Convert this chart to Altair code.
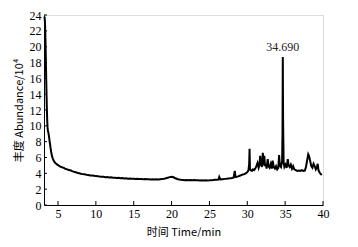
import altair as alt
import pandas as pd

time_min = [3.22, 3.27, 3.32, 3.37, 3.42, 3.47, 3.52, 3.57, 3.62, 3.67, 3.72, 3.77, 3.82, 3.87, 3.93, 4.0, 4.1, 4.2, 4.3, 4.4, 4.5, 4.6, 4.7, 4.8, 4.9,
            5.0, 5.15, 5.3, 5.45, 5.6, 5.75, 5.9, 6.05, 6.2, 6.35, 6.5, 6.65, 6.8, 6.95, 7.1, 7.25, 7.4, 7.55, 7.7, 7.85, 8.0,
            8.25, 8.5, 8.75, 9.0, 9.25, 9.5, 9.75, 10.0, 10.25, 10.5, 10.75, 11.0, 11.25, 11.5, 11.75, 12.0, 12.25, 12.5, 12.75, 13.0,
            13.25, 13.5, 13.75, 14.0, 14.25, 14.5, 14.75, 15.0, 15.25, 15.5, 15.75, 16.0, 16.25, 16.5, 16.75, 17.0, 17.25, 17.5, 17.75,
            18.0, 18.25, 18.5, 18.75, 19.0, 19.25, 19.5, 19.75, 20.0, 20.25, 20.5, 20.75, 21.0, 21.25, 21.5, 21.75, 22.0, 22.25, 22.5,
            22.75, 23.0, 23.25, 23.5, 23.75, 24.0, 24.25, 24.5, 24.75, 25.0, 25.25, 25.5, 25.75, 26.0, 26.2, 26.3, 26.45, 26.75, 27.0,
            27.25, 27.5, 27.75, 28.0, 28.2, 28.35, 28.45, 28.6, 28.8, 29.0, 29.2, 29.4, 29.6, 29.8, 30.0, 30.15, 30.25, 30.3, 30.35,
            30.45, 30.6, 30.75, 30.9, 31.05, 31.2, 31.35, 31.5, 31.6, 31.7, 31.8, 31.95, 32.05, 32.15, 32.25, 32.35, 32.45, 32.55,
            32.7, 32.8, 32.95, 33.1, 33.25, 33.35, 33.5, 33.65, 33.8, 33.95, 34.1, 34.2, 34.3, 34.45, 34.6, 34.65, 34.69, 34.73,
            34.8, 34.9, 35.05, 35.2, 35.35, 35.45, 35.6, 35.75, 35.9, 36.05, 36.2, 36.4, 36.6, 36.8, 37.0, 37.2, 37.4, 37.6, 37.75,
            37.9, 38.05, 38.15, 38.3, 38.45, 38.6, 38.75, 38.9, 39.05, 39.2, 39.3, 39.4, 39.55, 39.7, 39.85]

abundance = [23.8, 23.2, 21.8, 19.6, 17.0, 14.6, 12.4, 10.8, 9.8, 9.3, 9.2, 8.9, 8.6, 8.2, 7.8, 7.3, 6.7, 6.2, 5.9, 5.65, 5.5, 5.35, 5.25, 5.2, 5.1,
             5.05, 4.95, 4.85, 4.8, 4.72, 4.7, 4.6, 4.55, 4.5, 4.45, 4.4, 4.38, 4.3, 4.25, 4.2, 4.18, 4.1, 4.08, 4.02, 4.0, 3.95,
             3.9, 3.88, 3.82, 3.8, 3.74, 3.72, 3.7, 3.65, 3.64, 3.6, 3.58, 3.57, 3.52, 3.53, 3.48, 3.5, 3.45, 3.44, 3.42, 3.43,
             3.38, 3.4, 3.36, 3.37, 3.33, 3.35, 3.31, 3.32, 3.3, 3.31, 3.27, 3.29, 3.26, 3.28, 3.24, 3.26, 3.23, 3.25, 3.22,
             3.24, 3.22, 3.26, 3.27, 3.32, 3.38, 3.45, 3.52, 3.56, 3.5, 3.38, 3.28, 3.22, 3.18, 3.17, 3.14, 3.16, 3.13, 3.15,
             3.12, 3.15, 3.13, 3.12, 3.11, 3.12, 3.1, 3.13, 3.11, 3.12, 3.14, 3.15, 3.18, 3.2, 3.22, 3.55, 3.24, 3.26, 3.3,
             3.32, 3.35, 3.38, 3.42, 3.48, 4.3, 3.52, 3.55, 3.62, 3.7, 3.78, 3.85, 3.9, 4.0, 4.15, 4.35, 5.2, 7.1, 4.6,
             4.4, 4.3, 4.5, 4.4, 4.6, 4.9, 5.3, 4.7, 5.0, 6.2, 5.2, 4.8, 6.6, 5.0, 6.2, 4.9, 5.2, 4.6, 5.8,
             4.9, 4.7, 5.2, 4.6, 5.6, 4.8, 4.6, 4.9, 4.5, 4.7, 6.3, 5.0, 4.8, 5.5, 9.0, 18.7, 10.5,
             5.4, 4.8, 5.1, 4.7, 5.8, 5.0, 4.8, 5.1, 4.6, 4.9, 4.5, 4.4, 4.3, 4.35, 4.3, 4.4, 4.3, 4.35, 4.8,
             5.6, 6.4, 6.2, 5.6, 4.9, 4.7, 5.2, 4.9, 4.5, 4.8, 5.2, 4.4, 4.1, 3.9, 3.8]

y_ticks = [0, 2, 4, 6, 8, 10, 12, 14, 16, 18, 20, 22, 24]
x_ticks = [5, 10, 15, 20, 25, 30, 35, 40]
peak_time = [34.69]
peak_value = [19.9]
peak_label = ["34.690"]

df = pd.DataFrame({"t": time_min, "a": abundance})
yt = pd.DataFrame({"a": y_ticks})
xt = pd.DataFrame({"t": x_ticks})
pk = pd.DataFrame({"t": peak_time, "a": peak_value, "label": peak_label})

serif = "Liberation Serif"
H = 190
xscale = alt.Scale(domain=[3.15, 40], nice=False, zero=False)
yscale = alt.Scale(domain=[0, 24], nice=False)

xaxis = alt.Axis(values=x_ticks, title="时间 Time/min")
yaxis = alt.Axis(values=y_ticks, title="丰度 Abundance/10⁴")

line = alt.Chart(df).mark_line(color="black", strokeWidth=2).encode(
    x=alt.X("t:Q", scale=xscale, axis=xaxis),
    y=alt.Y("a:Q", scale=yscale, axis=yaxis),
)

ytick = alt.Chart(yt).mark_rule(color="black", strokeWidth=1).encode(
    y=alt.Y("a:Q", scale=yscale, axis=yaxis), x=alt.value(0), x2=alt.value(3)
)
xtick = alt.Chart(xt).mark_rule(color="black", strokeWidth=1).encode(
    x=alt.X("t:Q", scale=xscale, axis=xaxis), y=alt.value(H), y2=alt.value(H - 4)
)
label = alt.Chart(pk).mark_text(font=serif, fontSize=12, color="#222").encode(
    x=alt.X("t:Q", scale=xscale, axis=xaxis), y=alt.Y("a:Q", scale=yscale, axis=yaxis), text="label:N"
)

chart = alt.layer(line, ytick, xtick, label).properties(
    width=279, height=H,
    autosize=alt.AutoSizeParams(type="none"),
    padding={"left": 36, "top": 7, "right": 20, "bottom": 32},
).configure_view(stroke=None).configure(background="white").configure_axis(
    ticks=False, grid=False, labelPadding=3, labelOverlap=False,
    titleFont="Noto Sans CJK SC", titleFontWeight="normal", titleFontSize=11,
    labelFont=serif, labelFontSize=12, domainColor="black", labelColor="black",
    titleColor="black", labelFlush=False,
).configure_axisX(titlePadding=7).configure_axisY(titlePadding=5)

chart.save("out.html", embed_options={"renderer": "svg", "actions": False})
